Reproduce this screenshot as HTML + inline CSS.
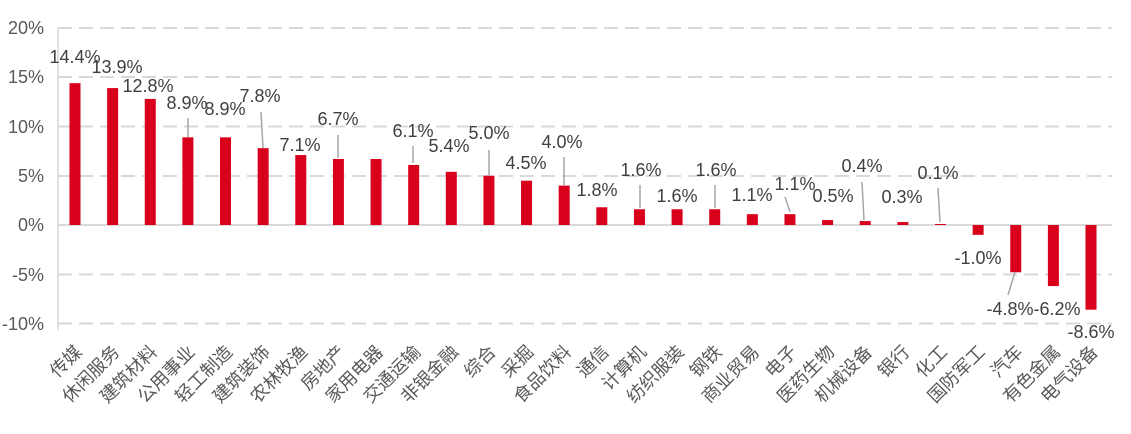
<!DOCTYPE html>
<html><head><meta charset="utf-8"><style>
html,body{margin:0;padding:0;background:#fff;}
svg{display:block;font-family:"Liberation Sans","Noto Sans CJK SC",sans-serif;}
</style></head><body>
<svg width="1131" height="434" viewBox="0 0 1131 434" xmlns="http://www.w3.org/2000/svg">
<g stroke="#d9d9d9" stroke-width="2" stroke-dasharray="14,7">
<line x1="58" y1="28" x2="1112" y2="28"/>
<line x1="58" y1="77" x2="1112" y2="77"/>
<line x1="58" y1="126.5" x2="1112" y2="126.5"/>
<line x1="58" y1="176" x2="1112" y2="176"/>
<line x1="58" y1="274.5" x2="1112" y2="274.5"/>
<line x1="58" y1="323.5" x2="1112" y2="323.5"/>
</g>
<line x1="58" y1="225" x2="1112" y2="225" stroke="#d9d9d9" stroke-width="2"/>
<line x1="58" y1="28" x2="58" y2="330" stroke="#d9d9d9" stroke-width="1.5"/>
<g fill="#595959" font-size="18" text-anchor="end">
<text x="44" y="34">20%</text><text x="44" y="83">15%</text><text x="44" y="133">10%</text>
<text x="44" y="182">5%</text><text x="44" y="231">0%</text><text x="44" y="281">-5%</text><text x="44" y="330">-10%</text>
</g>
<g id="bars" fill="#d9001b"></g>
<g id="lines" stroke="#a6a6a6" stroke-width="1.5"></g>
<g id="vals" fill="#404040" font-size="18" text-anchor="middle"></g>
<g id="cats" fill="#595959" font-size="18" text-anchor="end"></g>
</svg>
<script>
var names=["传媒","休闲服务","建筑材料","公用事业","轻工制造","建筑装饰","农林牧渔","房地产","家用电器","交通运输","非银金融","综合","采掘","食品饮料","通信","计算机","纺织服装","钢铁","商业贸易","电子","医药生物","机械设备","银行","化工","国防军工","汽车","有色金属","电气设备"];
var v=[14.4,13.9,12.8,8.9,8.9,7.8,7.1,6.7,6.7,6.1,5.4,5.0,4.5,4.0,1.8,1.6,1.6,1.6,1.1,1.1,0.5,0.4,0.3,0.1,-1.0,-4.8,-6.2,-8.6];
var lp=[[75,57],[117,67],[148,86],[187,103],[225,109],[260,96],[300,145],[338,119],[378,131],[413,131],[449,146],[489,133],[526,163],[562,142],[597,190],[641,170],[677,196],[716,170],[752,195],[795,184],[833,196],[862,166],[902,197],[938,173],[978,258],[1010,309],[1057,309],[1091,332]];
var ln=[[3,188,118,188,137],[5,261,112,263,148],[7,338,135,338,158],[9,413,146,413,163],[11,489,150,489,175],[13,564,157,564,185],[15,640,185,640,208],[17,715,185,715,208],[19,785,197,790,212],[21,862,182,864,220],[23,938,188,940,222],[25,1015,272,1008,295]];
var NS="http://www.w3.org/2000/svg";
function el(t,a,p,txt){var e=document.createElementNS(NS,t);for(var k in a)e.setAttribute(k,a[k]);if(txt)e.textContent=txt;document.getElementById(p).appendChild(e);}
for(var i=0;i<28;i++){var cx=75+i*37.63;var h=v[i]*9.85;
el("rect",{x:cx-5.5,y:h>0?225-h:225,width:11,height:Math.abs(h)},"bars");
if(i!=8)el("text",{x:lp[i][0],y:lp[i][1]+6},"vals",v[i].toFixed(1)+"%");
el("text",{x:cx+8,y:353,transform:"rotate(-45 "+(cx+8)+" 353)"},"cats",names[i]);}
ln.forEach(function(l){el("line",{x1:l[1],y1:l[2],x2:l[3],y2:l[4]},"lines");});
</script>
</body></html>
